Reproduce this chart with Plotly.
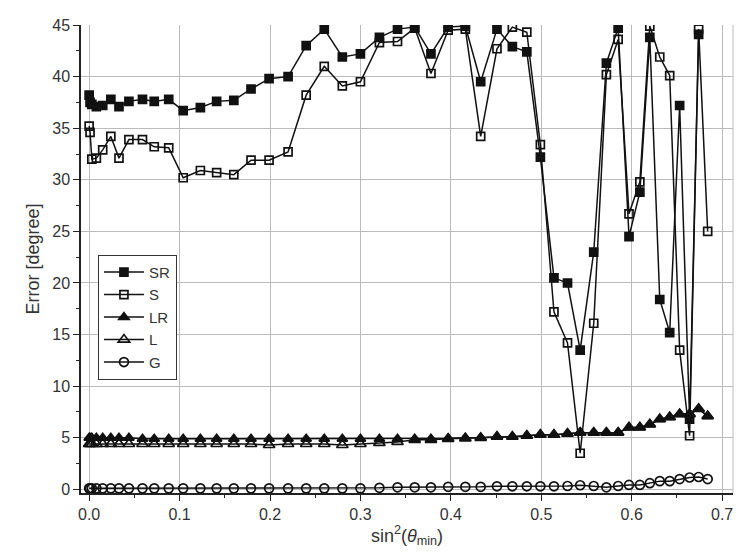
import plotly.graph_objects as go

x = [0.000, 0.001, 0.003, 0.008, 0.015, 0.024, 0.033, 0.044, 0.059, 0.072,
     0.088, 0.104, 0.123, 0.141, 0.160, 0.179, 0.199, 0.220, 0.240, 0.260,
     0.280, 0.300, 0.321, 0.341, 0.360, 0.378, 0.397, 0.416, 0.433, 0.451,
     0.468, 0.484, 0.499, 0.514, 0.529, 0.543, 0.558, 0.572, 0.585, 0.597,
     0.609, 0.620, 0.631, 0.642, 0.653, 0.664, 0.674, 0.684]

SR = [38.2, 37.5, 37.3, 37.1, 37.2, 37.8, 37.1, 37.6, 37.8, 37.6,
      37.8, 36.7, 37.0, 37.6, 37.7, 38.8, 39.8, 40.0, 43.0, 44.6,
      41.9, 42.2, 43.8, 44.6, 44.8, 42.2, 44.8, 44.9, 39.5, 44.6,
      42.9, 42.4, 32.2, 20.5, 20.0, 13.5, 23.0, 41.3, 44.7, 24.5,
      28.8, 43.8, 18.4, 15.2, 37.2, 6.8, 44.1, None]

S = [35.2, 34.6, 32.0, 32.1, 32.9, 34.2, 32.1, 33.9, 33.9, 33.2,
     33.1, 30.2, 30.9, 30.7, 30.5, 31.9, 31.9, 32.7, 38.2, 41.0,
     39.1, 39.5, 43.3, 43.4, 44.7, 40.3, 44.5, 44.6, 34.2, 42.7,
     44.8, 44.3, 33.4, 17.2, 14.2, 3.5, 16.1, 40.2, 43.6, 26.7,
     29.8, 44.9, 41.9, 40.1, 13.5, 5.2, 44.6, 25.0]

LR = [5.0, 5.0, 5.0, 5.0, 5.0, 5.0, 5.0, 5.0, 4.9, 4.9,
      4.9, 4.9, 4.9, 4.9, 4.9, 4.9, 4.9, 4.9, 4.9, 4.9,
      4.9, 4.9, 4.9, 4.9, 4.9, 4.9, 4.95, 5.0, 5.0, 5.1,
      5.1, 5.2, 5.3, 5.3, 5.4, 5.5, 5.5, 5.5, 5.5, 6.0,
      6.0, 6.3, 6.8, 7.0, 7.3, 7.3, 7.8, 7.1]

L = [4.4, 4.4, 4.4, 4.4, 4.4, 4.4, 4.4, 4.4, 4.4, 4.4,
     4.4, 4.4, 4.4, 4.4, 4.4, 4.4, 4.3, 4.4, 4.4, 4.4,
     4.3, 4.4, 4.5, 4.6, 4.8, 4.8, 4.9, 4.95, 5.0, 5.1,
     5.1, 5.2, 5.3, 5.3, 5.4, 5.5, 5.5, 5.5, 5.5, 6.0,
     6.0, 6.3, 6.8, 7.0, 7.3, 7.3, 7.8, 7.1]

G = [0.1, 0.1, 0.1, 0.1, 0.1, 0.1, 0.1, 0.1, 0.1, 0.1,
     0.1, 0.1, 0.1, 0.1, 0.1, 0.1, 0.1, 0.1, 0.1, 0.1,
     0.1, 0.1, 0.15, 0.2, 0.2, 0.2, 0.25, 0.25, 0.25, 0.3,
     0.3, 0.3, 0.3, 0.3, 0.33, 0.4, 0.33, 0.2, 0.33, 0.43,
     0.43, 0.6, 0.8, 0.8, 1.0, 1.15, 1.2, 1.0]

names = ["SR", "S", "LR", "L", "G"]
series = [SR, S, LR, L, G]
symbols = ["square", "square-open", "triangle-up", "triangle-up-open", "circle-open"]
sizes = [8, 8, 9, 10, 9]

fig = go.Figure()
for name, ys, sym, sz in zip(names, series, symbols, sizes):
    fig.add_trace(go.Scatter(
        x=x, y=ys, name=name, mode="lines+markers",
        line=dict(color="#111111", width=1.5),
        marker=dict(symbol=sym, size=sz, color="#111111",
                    line=dict(color="#111111", width=1.7)),
        connectgaps=False,
    ))

FONT = "Liberation Sans, Arial, sans-serif"

fig.update_layout(
    width=734, height=547,
    margin=dict(l=73, r=9, t=11, b=62),
    paper_bgcolor="white", plot_bgcolor="white",
    font=dict(family=FONT, size=16, color="#333333"),
    showlegend=True,
    legend=dict(x=0.026, y=0.509, xanchor="left", yanchor="top",
                bgcolor="white", bordercolor="#333333", borderwidth=1,
                font=dict(family=FONT, size=15, color="#333333"), tracegroupgap=0,
                itemwidth=40),
)

fig.update_xaxes(
    range=[-0.009, 0.712], tickmode="linear", tick0=0, dtick=0.1,
    tickformat=".1f", ticks="outside", ticklen=6, tickwidth=1.2, tickcolor="#222",
    tickfont=dict(family=FONT, size=16, color="#333333"),
    showline=True, linecolor="#222", linewidth=1.5,
    showgrid=True, gridcolor="#bbbbbb", gridwidth=1, zeroline=False,
    minor=dict(ticks="outside", ticklen=3, tickwidth=1, tickcolor="#222",
               dtick=0.05, tick0=0, showgrid=False),
    title=dict(text="sin<sup>2</sup>(<i>θ</i><sub>min</sub>)", standoff=4,
               font=dict(family=FONT, size=18, color="#333333")),
)
fig.update_yaxes(
    range=[-0.35, 45], tickmode="linear", tick0=0, dtick=5,
    ticks="outside", ticklen=6, tickwidth=1.2, tickcolor="#222",
    tickfont=dict(family=FONT, size=16, color="#333333"),
    showline=True, linecolor="#222", linewidth=1.5,
    showgrid=True, gridcolor="#bbbbbb", gridwidth=1, zeroline=False,
    minor=dict(ticks="outside", ticklen=3, tickwidth=1, tickcolor="#222",
               dtick=2.5, tick0=0, showgrid=False),
    title=dict(text="Error [degree]", standoff=8,
               font=dict(family=FONT, size=18, color="#333333")),
)

fig.add_shape(type="line", xref="paper", yref="paper", x0=1, x1=1, y0=0, y1=1,
              line=dict(color="#bbbbbb", width=1))

fig.write_html("out.html")
